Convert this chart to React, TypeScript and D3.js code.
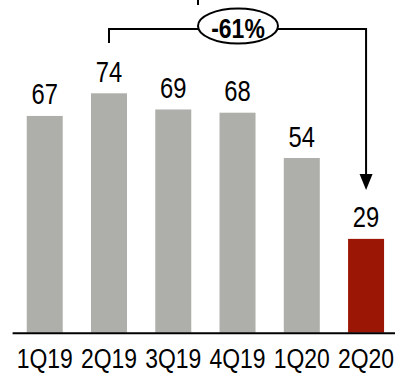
import React from "react";
import * as d3 from "d3";

const categories = ["1Q19", "2Q19", "3Q19", "4Q19", "1Q20", "2Q20"];
const values = [67, 74, 69, 68, 54, 29];
const highlight = ["2Q20"];
const changeLabel = "-61%";
const changeFrom = "2Q19";
const changeTo = "2Q20";

const W = 395;
const H = 373;
const FONT = "'Liberation Sans', Arial, sans-serif";
const NARROW = 0.82;

function NText(props: { x: number; y: number; size: number; sx?: number; bold?: boolean; children: React.ReactNode }) {
  return (
    <text
      transform={`translate(${props.x},${props.y}) scale(${props.sx ?? NARROW},1)`}
      textAnchor="middle"
      fontFamily={FONT}
      fontWeight={props.bold ? "bold" : "normal"}
      fontSize={props.size}
      fill="#000"
    >
      {props.children}
    </text>
  );
}

export default function App() {
  const baseline = 332.7;
  const x = d3
    .scaleBand<string>()
    .domain(categories)
    .range([12.6, 398.2])
    .paddingInner(0.44)
    .paddingOuter(0.22);
  const y = d3
    .scaleLinear()
    .domain([0, d3.max(values) as number])
    .range([baseline, 93.3]);

  const cx = (c: string) => (x(c) as number) + x.bandwidth() / 2;
  const x1 = cx(changeFrom);
  const x2 = cx(changeTo);
  const bracketY = 29;
  const toIdx = categories.indexOf(changeTo);
  const tipY = y(values[toIdx]) - 49;
  const ellX = 238;
  const ellY = 26;

  return (
    <svg
      width={W}
      height={H}
      style={{ position: "absolute", left: 0, top: 0, background: "#fff" }}
    >
      {categories.map((c, i) => (
        <rect
          key={c}
          x={x(c)}
          y={y(values[i])}
          width={x.bandwidth()}
          height={baseline - y(values[i])}
          fill={highlight.includes(c) ? "#9C1606" : "#AEAEAA"}
        />
      ))}
      <line x1={12.6} x2={W} y1={baseline + 0.5} y2={baseline + 0.5} stroke="#000" strokeWidth={2} />
      {categories.map((c, i) => (
        <NText key={"v" + c} x={cx(c)} y={y(values[i]) - 11.5} size={29}>
          {values[i]}
        </NText>
      ))}
      {categories.map((c) => (
        <NText key={"c" + c} x={cx(c)} y={367.5} size={27} sx={0.85}>
          {c}
        </NText>
      ))}
      {/* bracket */}
      <line x1={198} x2={198} y1={0} y2={5} stroke="#000" strokeWidth={2} />
      <path
        d={`M${x1},43 L${x1},${bracketY} L${x2},${bracketY} L${x2},${tipY - 14}`}
        fill="none"
        stroke="#000"
        strokeWidth={2}
      />
      <path
        d={`M${x2 - 6.5},${tipY - 16} L${x2 + 6.5},${tipY - 16} L${x2},${tipY} Z`}
        fill="#000"
      />
      <ellipse cx={ellX} cy={ellY} rx={40} ry={17.5} fill="#fff" stroke="#000" strokeWidth={2} />
      <NText x={ellX} y={37.5} size={28} bold>
        {changeLabel}
      </NText>
    </svg>
  );
}
